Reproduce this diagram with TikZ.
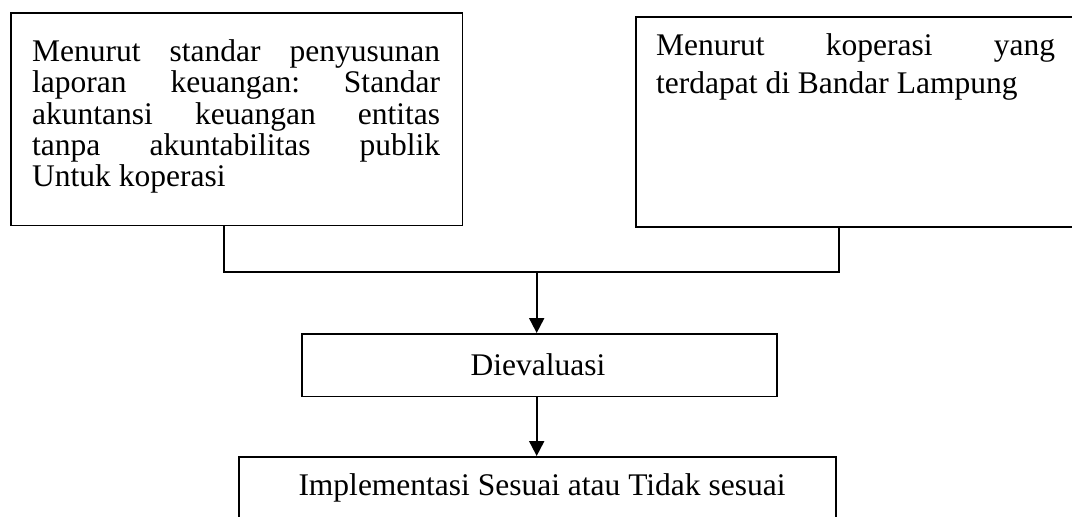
\documentclass[tikz,border=0pt]{standalone}
\usepackage{fontspec}
\setmainfont{Liberation Serif}
\usetikzlibrary{arrows.meta}
\tikzset{
  box/.style={draw=black, line width=1.6pt, rectangle, inner sep=0pt, anchor=north west},
  txt/.style={inner sep=0pt, anchor=base west, font=\fontsize{31.5}{31.25}\selectfont},
  ctxt/.style={inner sep=0pt, anchor=base, font=\fontsize{31.5}{31.25}\selectfont},
  conn/.style={draw=black, line width=2pt},
  arr/.style={conn, -{Triangle[width=15pt,length=15pt]}}
}
\begin{document}
\begin{tikzpicture}[x=1pt,y=-1pt]
\useasboundingbox (0,0) rectangle (1072,517);
\clip (0,0) rectangle (1072,517);
% boxes
\node[box, minimum width=451.7pt, minimum height=212.7pt] (L) at (10,12) {};
\node[box, minimum width=460pt, minimum height=210pt] (R) at (635,16) {};
\node[box, minimum width=475pt, minimum height=62.7pt] (D) at (301,333) {};
\node[box, minimum width=597pt, minimum height=110pt] (B) at (238,456) {};
% texts
\node[txt] (Lt) at (32,61.7) {\vtop{\baselineskip=31.25pt
  \hbox to 408pt{Menurut\hfill standar\hfill penyusunan}
  \hbox to 408pt{laporan\hfill keuangan:\hfill Standar}
  \hbox to 408pt{akuntansi\hfill keuangan\hfill entitas}
  \hbox to 408pt{tanpa\hfill akuntabilitas\hfill publik}
  \hbox{Untuk koperasi}}};
\node[txt] (Rt) at (656,55) {\vtop{\baselineskip=38pt
  \hbox to 399pt{Menurut\hfill koperasi\hfill yang}
  \hbox{terdapat di Bandar Lampung}}};
\node[ctxt] (Dt) at (538,375) {Dievaluasi};
\node[ctxt] (Bt) at (542,495) {Implementasi Sesuai atau Tidak sesuai};
% connectors
\coordinate (j) at (536.7,271.7);
\draw[conn] ([xshift=214pt]L.south west) |- (j) -| ([xshift=204pt]R.south west);
\draw[arr] (j) -- (j |- D.north);
\draw[arr] (j |- D.south) -- (j |- B.north);
\end{tikzpicture}
\end{document}
